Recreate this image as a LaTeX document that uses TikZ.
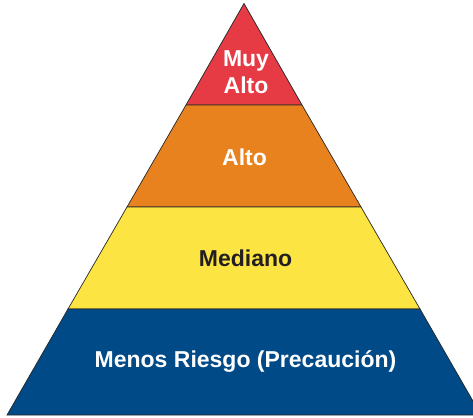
\documentclass[tikz,border=0pt]{standalone}
\usepackage{fontspec}
\setmainfont{Liberation Sans}
\usepackage{xcolor}
\usetikzlibrary{positioning}
\definecolor{riskred}{HTML}{E63A45}
\definecolor{riskorange}{HTML}{E8821E}
\definecolor{riskyellow}{HTML}{FCE443}
\definecolor{riskblue}{HTML}{004A87}
\definecolor{risktext}{HTML}{231F20}

\begin{document}
\begin{tikzpicture}[x=1pt, y=-1pt,
  band/.style={draw=black!85, line width=0.7pt, line join=miter},
  level/.style={font=\fontsize{23}{27}\selectfont\bfseries, align=center,
    inner sep=0pt, text=white},
]
\useasboundingbox (0,0) rectangle (473,417);
\clip (0,0) rectangle (473,417);

% Corners of the pyramid and band edges
\coordinate (apex) at (244,3.5);
\coordinate (l1) at (186,105);  \coordinate (r1) at (302,105);
\coordinate (l2) at (127,207);  \coordinate (r2) at (361,207);
\coordinate (l3) at (68,309);   \coordinate (r3) at (420,309);
\coordinate (l4) at (7,415);    \coordinate (r4) at (481,415);

% Bands, top to bottom
\draw[band, fill=riskred]    (apex) -- (r1) -- (l1) -- cycle;
\draw[band, fill=riskorange] (l1) -- (r1) -- (r2) -- (l2) -- cycle;
\draw[band, fill=riskyellow] (l2) -- (r2) -- (r3) -- (l3) -- cycle;
\draw[band, fill=riskblue]   (l3) -- (r3) -- (r4) -- (l4) -- cycle;

% Labels
\node[level] (muyalto) at (246,72) {Muy\\Alto};
\node[level] (alto)    at (244.5,157) {Alto};
\node[level, text=risktext] (mediano) at (245.5,258) {Mediano};
\node[level] (menos)   at (245.5,361) {Menos Riesgo (Precaución)};
\end{tikzpicture}
\end{document}
